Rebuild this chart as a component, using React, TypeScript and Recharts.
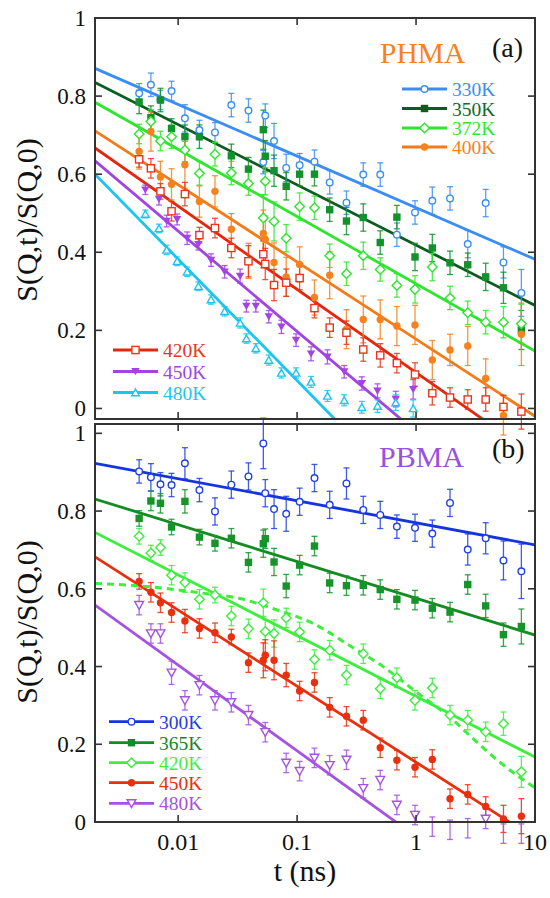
import React from 'react';
import { ComposedChart, Line, Scatter, ErrorBar, XAxis, YAxis } from 'recharts';

const FONT = 'Liberation Serif';

// measurement times (ns)
const tMain = [0.0047, 0.0059, 0.0071, 0.0088, 0.0114, 0.0151, 0.0204, 0.028, 0.039, 0.052, 0.054, 0.064, 0.081, 0.105, 0.14, 0.188, 0.26, 0.36, 0.5, 0.69, 0.98, 1.37, 1.93, 2.72, 3.85, 5.43, 7.68];
const tHot = [0.0053, 0.0069, 0.008, 0.0098, 0.0119, 0.0148, 0.0189, 0.0246, 0.0332, 0.0375, 0.045, 0.0578, 0.0738, 0.098, 0.131, 0.18, 0.249, 0.35, 0.474, 0.675, 0.946];
const tEnds = [0.002, 10];

const xTicks = [0.01, 0.1, 1, 10];
const yTicks = [0, 0.2, 0.4, 0.6, 0.8, 1];

// (a) PHMA
const a330 = [0.807, 0.829, 0.79, 0.813, 0.743, 0.713, 0.707, 0.777, 0.763, 0.631, 0.75, 0.685, 0.616, 0.623, 0.632, 0.579, 0.527, 0.599, 0.599, 0.445, 0.502, 0.532, 0.538, 0.421, 0.526, 0.374, 0.296];
const a330e = [0.025, 0.03, 0.025, 0.025, 0.035, 0.025, 0.025, 0.03, 0.03, 0.03, 0.03, 0.045, 0.035, 0.03, 0.03, 0.03, 0.03, 0.03, 0.03, 0.03, 0.03, 0.035, 0.03, 0.035, 0.035, 0.04, 0.06];
const a350 = [0.785, 0.745, 0.79, 0.717, 0.696, 0.696, null, 0.647, 0.613, 0.714, 0.646, 0.609, 0.569, 0.6, 0.6, 0.509, 0.48, 0.489, 0.425, 0.49, 0.388, 0.411, 0.373, 0.368, 0.337, 0.309, 0.201];
const a350e = [0.03, 0.03, 0.03, 0.025, 0.03, 0.03, null, 0.03, 0.03, 0.05, 0.04, 0.04, 0.035, 0.03, 0.03, 0.03, 0.035, 0.035, 0.03, 0.03, 0.035, 0.035, 0.03, 0.03, 0.035, 0.04, 0.05];
const a372 = [0.703, 0.735, 0.685, 0.696, 0.662, 0.602, 0.651, 0.603, 0.576, 0.488, 0.582, 0.479, 0.436, 0.517, 0.514, 0.391, 0.345, 0.391, 0.356, 0.315, 0.305, 0.362, 0.283, 0.245, 0.221, 0.221, 0.217];
const a372e = [0.025, 0.03, 0.025, 0.03, 0.03, 0.03, 0.03, 0.03, 0.03, 0.06, 0.035, 0.05, 0.035, 0.035, 0.03, 0.03, 0.03, 0.035, 0.03, 0.03, 0.035, 0.035, 0.03, 0.03, 0.03, 0.04, 0.05];
const a400 = [0.658, 0.709, 0.593, 0.574, 0.624, 0.53, 0.556, 0.459, 0.378, 0.448, 0.433, 0.374, 0.337, 0.369, 0.284, 0.341, 0.203, 0.228, 0.228, 0.211, 0.214, 0.124, 0.15, 0.16, 0.077, -0.018, 0.19];
const a400e = [0.045, 0.05, 0.04, 0.04, 0.06, 0.04, 0.04, 0.04, 0.045, 0.06, 0.06, 0.05, 0.05, 0.045, 0.045, 0.06, 0.05, 0.06, 0.05, 0.05, 0.05, 0.05, 0.04, 0.05, 0.05, 0.05, 0.08];
const a420 = [0.638, 0.615, 0.556, 0.505, 0.549, 0.444, 0.462, 0.411, 0.377, 0.395, 0.37, 0.316, 0.322, 0.334, 0.257, 0.207, 0.194, 0.151, 0.136, 0.116, 0.087, 0.039, 0.028, 0.023, 0.023, 0.004, -0.008];
const a420e = [0.02, 0.025, 0.02, 0.025, 0.03, 0.02, 0.025, 0.025, 0.04, 0.035, 0.04, 0.04, 0.035, 0.03, 0.025, 0.025, 0.03, 0.03, 0.03, 0.025, 0.03, 0.03, 0.025, 0.025, 0.03, 0.03, 0.045];
const a450 = [0.56, 0.536, 0.48, 0.484, 0.436, 0.42, 0.38, 0.35, 0.339, 0.262, 0.262, 0.235, 0.209, 0.175, 0.14, 0.132, 0.094, 0.064, 0.045, 0.024, 0.049];
const a450e = [0.012, 0.015, 0.015, 0.014, 0.016, 0.014, 0.016, 0.016, 0.018, 0.015, 0.015, 0.016, 0.017, 0.016, 0.018, 0.018, 0.016, 0.017, 0.018, 0.02, 0.025];
const a480 = [0.498, 0.461, 0.406, 0.377, 0.35, 0.313, 0.279, 0.249, 0.219, 0.179, 0.154, 0.124, 0.091, 0.091, 0.068, 0.032, 0.021, 0.003, 0.006, 0.015, 0.0];
const a480e = [0.01, 0.011, 0.012, 0.011, 0.012, 0.011, 0.012, 0.012, 0.013, 0.012, 0.012, 0.013, 0.013, 0.013, 0.014, 0.014, 0.014, 0.015, 0.016, 0.02, 0.022];

// fitted lines (value at t=0.002 and t=10)
const fitA330 = [0.871, 0.382];
const fitA350 = [0.835, 0.264];
const fitA372 = [0.784, 0.147];
const fitA400 = [0.711, -0.02];
const fitA420 = [0.667, -0.121];
const fitA450 = [0.634, -0.317];
const fitA480 = [0.6, -0.551];

// (b) PBMA
const b300 = [0.902, 0.887, 0.869, 0.867, 0.923, 0.854, 0.799, 0.868, 0.889, 0.974, 0.846, 0.805, 0.793, 0.824, 0.885, 0.816, 0.871, 0.803, 0.79, 0.76, 0.757, 0.742, 0.821, 0.701, 0.73, 0.673, 0.645];
const b300e = [0.03, 0.035, 0.03, 0.03, 0.04, 0.03, 0.035, 0.035, 0.035, 0.065, 0.035, 0.05, 0.045, 0.035, 0.035, 0.035, 0.04, 0.035, 0.035, 0.03, 0.035, 0.035, 0.035, 0.04, 0.04, 0.05, 0.07];
const b365 = [0.781, 0.826, 0.82, 0.759, 0.825, 0.733, 0.717, 0.73, 0.668, 0.716, 0.729, 0.669, 0.607, 0.661, 0.71, 0.615, 0.608, 0.609, 0.598, 0.573, 0.571, 0.55, 0.54, 0.611, 0.556, 0.482, 0.503];
const b365e = [0.02, 0.025, 0.025, 0.02, 0.03, 0.02, 0.02, 0.025, 0.025, 0.035, 0.025, 0.035, 0.03, 0.025, 0.025, 0.025, 0.025, 0.025, 0.025, 0.025, 0.025, 0.025, 0.025, 0.025, 0.03, 0.03, 0.045];
const b420 = [0.735, 0.692, 0.706, 0.635, 0.616, 0.573, 0.584, 0.53, 0.497, 0.564, 0.49, 0.485, 0.525, 0.489, 0.418, 0.442, 0.378, 0.433, 0.343, 0.371, 0.313, 0.345, 0.275, 0.262, 0.232, 0.253, 0.129];
const b420e = [0.02, 0.02, 0.02, 0.025, 0.025, 0.025, 0.02, 0.025, 0.025, 0.035, 0.03, 0.035, 0.025, 0.025, 0.025, 0.025, 0.025, 0.025, 0.025, 0.025, 0.025, 0.025, 0.025, 0.025, 0.025, 0.03, 0.04];
const b450 = [0.619, 0.591, 0.564, 0.539, 0.517, 0.498, 0.487, 0.476, 0.41, 0.416, 0.429, 0.416, 0.378, 0.337, 0.359, 0.295, 0.272, 0.262, 0.191, 0.159, 0.141, 0.161, 0.06, 0.071, 0.04, 0.008, 0.015];
const b450e = [0.02, 0.025, 0.025, 0.025, 0.03, 0.025, 0.025, 0.02, 0.025, 0.045, 0.04, 0.05, 0.03, 0.025, 0.025, 0.025, 0.025, 0.025, 0.025, 0.025, 0.025, 0.025, 0.025, 0.025, 0.025, 0.035, 0.045];
const b480 = [0.558, 0.485, 0.485, 0.384, 0.313, 0.352, 0.313, 0.308, 0.275, null, 0.231, null, 0.152, 0.131, 0.165, 0.146, 0.16, 0.087, 0.108, 0.044, 0.018, -0.012, -0.02, -0.016, 0.008, -0.03, -0.03];
const b480e = [0.025, 0.025, 0.025, 0.03, 0.025, 0.025, 0.025, 0.025, 0.025, null, 0.025, null, 0.025, 0.025, 0.025, 0.025, 0.025, 0.025, 0.025, 0.025, 0.025, 0.025, 0.025, 0.025, 0.025, 0.025, 0.025];

const fitB300 = [0.923, 0.713];
const fitB365 = [0.831, 0.481];
const fitB420 = [0.745, 0.167];
const fitB450 = [0.682, -0.042];
const fitB480 = [0.558, -0.258];

// dashed curve for 420K
const tDash = [0.002, 0.005, 0.015, 0.033, 0.067, 0.134, 0.3, 0.5, 1, 2, 3, 5, 10];
const yDash = [0.614, 0.607, 0.59, 0.575, 0.546, 0.512, 0.447, 0.405, 0.335, 0.265, 0.215, 0.155, 0.088];

const pts = (ts: number[], ys: (number | null)[], es: (number | null)[]) =>
  ts.map((t, i) => ({ t, y: ys[i], e: es[i] })).filter((d) => d.y !== null);
const fit = (ys: number[]) => tEnds.map((t, i) => ({ t, y: ys[i] }));

type Kind = 'circleOpen' | 'circle' | 'square' | 'squareOpen' | 'diamondOpen' | 'triDown' | 'triUpOpen' | 'triDownOpen';

function mark(kind: Kind, cx: number, cy: number, color: string) {
  const sw = 1.4;
  switch (kind) {
    case 'circleOpen':
      return <circle cx={cx} cy={cy} r={3.3} fill="#fff" stroke={color} strokeWidth={sw} />;
    case 'circle':
      return <circle cx={cx} cy={cy} r={3.7} fill={color} />;
    case 'square':
      return <rect x={cx - 3.7} y={cy - 3.7} width={7.4} height={7.4} fill={color} />;
    case 'squareOpen':
      return <rect x={cx - 3.6} y={cy - 3.6} width={7.2} height={7.2} fill="#fff" stroke={color} strokeWidth={sw} />;
    case 'diamondOpen':
      return <polygon points={`${cx},${cy - 4.8} ${cx + 4.8},${cy} ${cx},${cy + 4.8} ${cx - 4.8},${cy}`} fill="#fff" stroke={color} strokeWidth={sw} />;
    case 'triDown':
      return <polygon points={`${cx - 4.2},${cy - 3.4} ${cx + 4.2},${cy - 3.4} ${cx},${cy + 3.8}`} fill={color} />;
    case 'triUpOpen':
      return <polygon points={`${cx - 3.8},${cy + 3.2} ${cx + 3.8},${cy + 3.2} ${cx},${cy - 3.6}`} fill="#fff" stroke={color} strokeWidth={sw} />;
    default:
      return <polygon points={`${cx - 4.4},${cy - 3.6} ${cx + 4.4},${cy - 3.6} ${cx},${cy + 4.2}`} fill="#fff" stroke={color} strokeWidth={sw} />;
  }
}

interface Series {
  name: string;
  kind: Kind;
  color: string;
  line: string;
  text: string;
  data: { t: number; y: number | null; e: number | null }[];
  fit: { t: number; y: number }[];
}

const seriesA: Series[] = [
  { name: '330K', kind: 'circleOpen', color: '#3a8ef3', line: '#3a8ef3', text: '#3a8ef3', data: pts(tMain, a330, a330e), fit: fit(fitA330) },
  { name: '350K', kind: 'square', color: '#12922a', line: '#0b5c1f', text: '#0f6a24', data: pts(tMain, a350, a350e), fit: fit(fitA350) },
  { name: '372K', kind: 'diamondOpen', color: '#2fe62f', line: '#2fe62f', text: '#2fe62f', data: pts(tMain, a372, a372e), fit: fit(fitA372) },
  { name: '400K', kind: 'circle', color: '#f5821f', line: '#f47c18', text: '#f5821f', data: pts(tMain, a400, a400e), fit: fit(fitA400) },
  { name: '420K', kind: 'squareOpen', color: '#e8361c', line: '#e5260d', text: '#e8361c', data: pts(tMain, a420, a420e), fit: fit(fitA420) },
  { name: '450K', kind: 'triDown', color: '#a244df', line: '#a244df', text: '#a244df', data: pts(tHot, a450, a450e), fit: fit(fitA450) },
  { name: '480K', kind: 'triUpOpen', color: '#1cc4ef', line: '#1cc4ef', text: '#1cc4ef', data: pts(tHot, a480, a480e), fit: fit(fitA480) },
];

const seriesB: Series[] = [
  { name: '300K', kind: 'circleOpen', color: '#1f40e4', line: '#1434de', text: '#1f40e4', data: pts(tMain, b300, b300e), fit: fit(fitB300) },
  { name: '365K', kind: 'square', color: '#16942a', line: '#158c23', text: '#17852a', data: pts(tMain, b365, b365e), fit: fit(fitB365) },
  { name: '420K', kind: 'diamondOpen', color: '#3cef3c', line: '#3cef3c', text: '#3cef3c', data: pts(tMain, b420, b420e), fit: fit(fitB420) },
  { name: '450K', kind: 'circle', color: '#e8300e', line: '#e8300e', text: '#e8300e', data: pts(tMain, b450, b450e), fit: fit(fitB450) },
  { name: '480K', kind: 'triDownOpen', color: '#a552e0', line: '#a552e0', text: '#a552e0', data: pts(tMain, b480, b480e), fit: fit(fitB480) },
];

const dashData = tDash.map((t, i) => ({ t, y: yDash[i] }));

const AX = '#333';

const xTick = (plotH: number, labels: boolean) => (p: any) => {
  const { x, y, payload } = p;
  return (
    <g>
      <line x1={x} x2={x} y1={y} y2={y - 7} stroke={AX} strokeWidth={1.6} />
      <line x1={x} x2={x} y1={y - plotH} y2={y - plotH + 7} stroke={AX} strokeWidth={1.6} />
      {labels && (
        <text x={x} y={y + 28} textAnchor="middle" style={{ fontFamily: FONT }} fontSize={24} fill="#111">
          {payload.value}
        </text>
      )}
    </g>
  );
};

const yTick = (plotW: number) => (p: any) => {
  const { x, y, payload } = p;
  return (
    <g>
      <line x1={x} x2={x + 7} y1={y} y2={y} stroke={AX} strokeWidth={1.6} />
      <line x1={x + plotW - 7} x2={x + plotW} y1={y} y2={y} stroke={AX} strokeWidth={1.6} />
      <text x={x - 9} y={y + 8} textAnchor="end" style={{ fontFamily: FONT }} fontSize={23} fill="#111">
        {payload.value}
      </text>
    </g>
  );
};

function Panel({ series, yDomain, height, bottom, xAxisH, labels, plotH, dashed }: {
  series: Series[]; yDomain: [number, number]; height: number; bottom: number; xAxisH: number; labels: boolean; plotH: number; dashed?: boolean;
}) {
  return (
    <ComposedChart width={550} height={height} margin={{ top: 18, right: 15, bottom, left: 0 }}>
      <XAxis dataKey="t" type="number" scale="log" domain={[0.002, 10]} ticks={xTicks} allowDataOverflow interval={0}
        height={xAxisH} axisLine={false} tickLine={false} tickSize={0} tickMargin={0} tick={xTick(plotH, labels)} />
      <YAxis dataKey="y" type="number" domain={yDomain} ticks={yTicks} allowDataOverflow interval={0}
        width={95} axisLine={false} tickLine={false} tickSize={0} tickMargin={0} tick={yTick(440)} />
      {series.map((s) => (
        <Line key={'f' + s.name} data={s.fit} dataKey="y" type="linear" stroke={s.line} strokeWidth={2.8} dot={false} isAnimationActive={false} />
      ))}
      {dashed && (
        <Line data={dashData} dataKey="y" type="monotone" stroke="#3cef3c" strokeWidth={3} strokeDasharray="7 5" dot={false} isAnimationActive={false} />
      )}
      {series.map((s) => (
        <Scatter key={'s' + s.name} data={s.data} dataKey="y" isAnimationActive={false}
          shape={(p: any) => mark(s.kind, p.cx, p.cy, s.color)}>
          <ErrorBar dataKey="e" direction="y" width={3} stroke={s.color} strokeWidth={1.3} strokeOpacity={0.85} />
        </Scatter>
      ))}
    </ComposedChart>
  );
}

function Legend({ items, x1, x2, rows }: { items: Series[]; x1: number; x2: number; rows: number[] }) {
  const mid = (x1 + x2) / 2;
  return (
    <g>
      {items.map((s, i) => (
        <g key={s.name}>
          <line x1={x1} x2={x2} y1={rows[i]} y2={rows[i]} stroke={s.line} strokeWidth={2.8} />
          {mark(s.kind, mid, rows[i], s.kind === 'square' ? s.line : s.color)}
          <text x={x2 + 5} y={rows[i] + 7} style={{ fontFamily: FONT }} fontSize={19.5} fill={s.text}>{s.name}</text>
        </g>
      ))}
    </g>
  );
}

export default function App() {
  return (
    <div style={{ position: 'absolute', left: 0, top: 0, width: 550, height: 898, background: '#fff', overflow: 'hidden', fontFamily: FONT }}>
      <div style={{ position: 'absolute', left: 0, top: 0 }}>
        <Panel series={seriesA} yDomain={[-0.027, 1]} height={440} bottom={1} xAxisH={20} labels={false} plotH={401} />
      </div>
      <div style={{ position: 'absolute', left: 0, top: 406 }}>
        <Panel series={seriesB} yDomain={[0, 1.024]} height={492} bottom={26} xAxisH={50} labels plotH={398} dashed />
      </div>
      <div style={{ position: 'absolute', left: 94, top: 17, width: 442, height: 403, border: `2px solid ${AX}`, boxSizing: 'border-box' }} />
      <div style={{ position: 'absolute', left: 94, top: 423, width: 442, height: 400, border: `2px solid ${AX}`, boxSizing: 'border-box' }} />
      <svg width={550} height={898} style={{ position: 'absolute', left: 0, top: 0, pointerEvents: 'none' }}>
        <text x={37} y={220} transform="rotate(-90 37 220)" textAnchor="middle" style={{ fontFamily: FONT }} fontSize={30} fill="#111">S(Q,t)/S(Q,0)</text>
        <text x={37} y={622} transform="rotate(-90 37 622)" textAnchor="middle" style={{ fontFamily: FONT }} fontSize={30} fill="#111">S(Q,t)/S(Q,0)</text>
        <text x={305} y={881} textAnchor="middle" style={{ fontFamily: FONT }} fontSize={30} fill="#111">t (ns)</text>
        <text x={380} y={63} style={{ fontFamily: FONT }} fontSize={29.5} fill="#f5821f">PHMA</text>
        <text x={492} y={57} style={{ fontFamily: FONT }} fontSize={28} fill="#111">(a)</text>
        <text x={379} y={467} style={{ fontFamily: FONT }} fontSize={30} fill="#9a50e0">PBMA</text>
        <text x={492} y={458} style={{ fontFamily: FONT }} fontSize={28} fill="#111">(b)</text>
        <Legend items={seriesA.slice(0, 4)} x1={402} x2={447} rows={[89, 108.5, 128, 147]} />
        <Legend items={seriesA.slice(4)} x1={113} x2={158} rows={[350, 371.5, 392.5]} />
        <Legend items={seriesB} x1={109} x2={154} rows={[721.7, 742.7, 762.7, 782.7, 803.3]} />
      </svg>
    </div>
  );
}
